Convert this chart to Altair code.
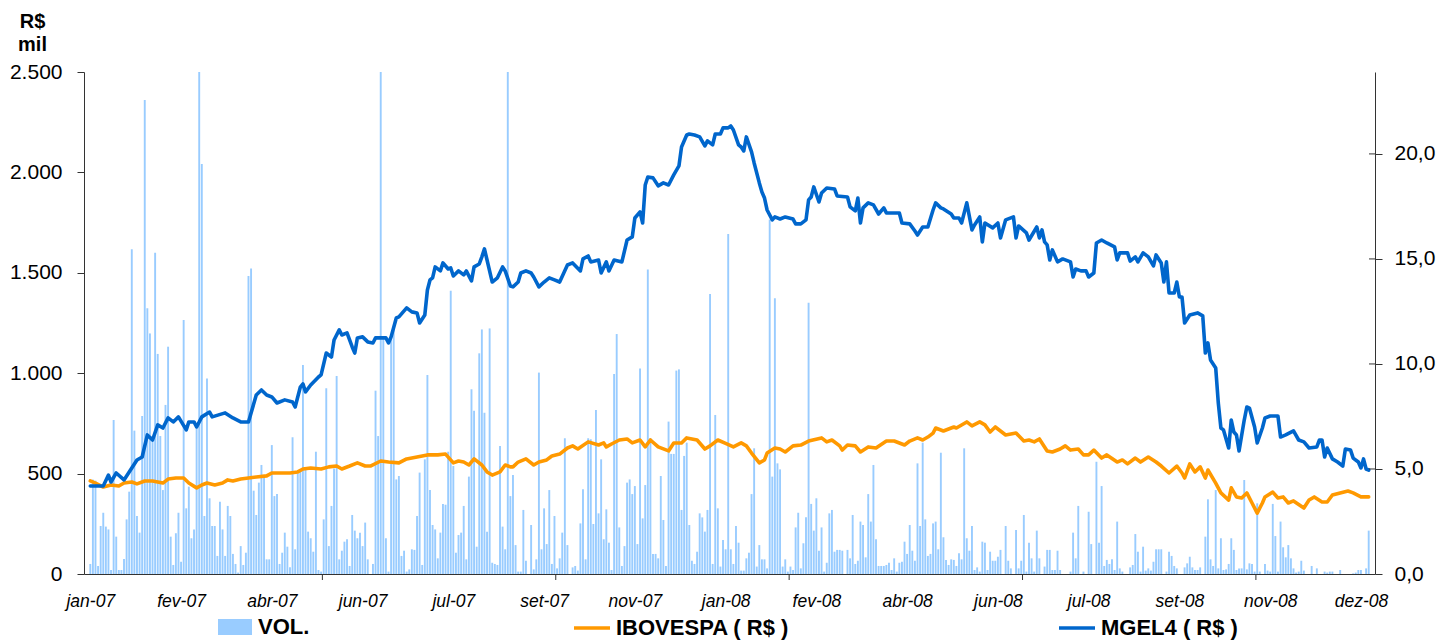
import json
import altair as alt
import pandas as pd

# ---------------- data ----------------
N_DIAS = 494  # trading days, jan-07 .. dez-08

ROTULOS_X = ["jan-07", "fev-07", "abr-07", "jun-07", "jul-07", "set-07", "nov-07",
             "jan-08", "fev-08", "abr-08", "jun-08", "jul-08", "set-08", "nov-08", "dez-08"]
DIAS_ROTULO = [0, 35, 70, 105, 140, 175, 210, 245, 280, 315, 350, 385, 420, 455, 490]
MARCAS_X = [89.5, 179.5, 269.5, 359.5, 449.5]

TICKS_ESQ = [0, 500, 1000, 1500, 2000, 2500]
TICKS_DIR = [0, 5, 10, 15, 20]

SERIE_VOL = "VOL."
SERIE_IBOV = "IBOVESPA ( R$ )"
SERIE_MGEL = "MGEL4 ( R$ )"

# (day, volume R$ mil)
VOL = [
    (0,50),(1,470),(2,465),(3,40),(4,239),(5,305),(6,236),(7,222),(8,20),(9,767),(10,186),(11,20),(12,20),
    (13,75),(14,272),(15,410),(16,1617),(17,714),(18,289),(19,206),(20,787),(21,2360),(22,1323),(23,1198),
    (24,687),(25,1600),(26,1096),(27,687),(28,418),(29,842),(30,1132),(31,186),(32,45),(33,203),(34,305),
    (35,61),(36,1265),(37,327),(38,435),(39,178),(40,222),(41,737),(42,2500),(43,2042),(44,289),(45,974),
    (46,377),(47,239),(48,239),(49,90),(50,360),(51,222),(52,90),(53,339),(54,289),(55,100),(56,50),(57,7),
    (58,139),(59,45),(60,106),(61,1484),(62,1522),(63,415),(64,294),(65,455),(66,543),(67,488),(68,73),
    (69,73),(70,642),(71,388),(72,398),(73,50),(74,106),(75,206),(76,136),(77,33),(78,681),(79,123),(80,501),
    (81,515),(82,1041),(83,521),(84,211),(85,178),(86,111),(87,609),
    (88,20),(89,12),(90,272),(91,925),(92,139),(93,339),(94,526),(95,986),(96,73),(97,116),(98,161),(99,173),
    (100,40),(101,294),(102,216),(103,178),(104,206),(105,139),(106,256),(107,73),(109,50),(110,913),(111,687),
    (112,2500),(113,1182),(114,178),(115,12),(116,1174),(117,1223),(118,471),(119,488),(120,90),(121,116),
    (122,12),(123,23),(124,123),(125,120),(126,289),(127,505),(128,45),(129,571),(130,991),(131,418),(132,244),
    (133,222),(134,78),(135,206),(136,349),(137,345),(138,609),(139,1411),(140,538),(141,106),(142,194),
    (143,206),(144,339),(145,73),(146,485),(147,920),(148,813),(149,136),(150,1099),(151,1218),(152,803),
    (153,211),(154,1223),(155,56),(156,50),(157,45),(158,637),(159,236),(160,123),(161,2500),(162,388),(163,493),
    (164,144),(165,12),(166,12),(167,319),(168,66),(170,244),(171,23),(172,73),(173,1003),(174,123),(175,327),
    (176,149),(177,418),(178,50),(179,289),(180,28),(181,78),(182,206),(183,676),(184,144),(186,33),(187,40),
    (188,17),(189,252),(190,422),(191,73),(192,676),(193,671),(194,249),(195,817),(196,302),(197,571),(198,173),
    (199,322),(200,156),(201,20),(202,996),(203,1195),(204,232),(205,40),(206,139),(207,455),(208,471),(209,398),
    (210,438),(211,149),(212,1024),(213,277),(214,443),(215,1517),(216,676),(217,100),(218,100),(219,78),
    (220,488),(221,269),(222,40),(223,759),(224,598),(225,598),(226,1013),(227,1019),(228,319),(229,588),
    (230,654),(231,244),(232,66),(233,50),(234,111),(235,302),(236,282),(237,211),(238,319),(239,1394),(240,50),
    (241,792),(242,327),(243,37),(244,169),(245,123),(246,1693),
    (247,123),(248,50),(249,239),(250,156),(251,17),(252,17),(253,78),(254,106),(255,398),(256,626),(257,37),
    (258,144),(259,73),(260,73),(261,28),(262,1766),(263,485),(264,1373),(265,551),(266,521),(267,37),(268,73),
    (269,12),(270,37),(271,20),(272,232),(273,305),(274,28),(275,153),(276,282),(277,1351),(278,349),(279,216),
    (280,377),(281,116),(282,232),(283,12),(284,56),(285,302),(286,319),(287,111),(288,120),(289,120),(290,116),
    (292,120),(293,78),(294,294),(295,50),(296,66),(297,261),(298,244),(299,83),(300,398),(301,261),(302,543),
    (303,173),(304,40),(305,40),(306,40),(307,45),(308,56),(309,20),(310,78),(311,12),(312,56),(313,61),
    (314,161),(315,100),(316,244),(317,116),(318,66),(319,551),(320,239),(321,654),(322,272),(323,90),(324,100),
    (325,252),(326,261),(327,123),(328,604),(329,183),
    (330,70),(331,45),(332,73),(333,70),(334,40),(335,103),(336,73),(337,626),(338,178),(339,116),(340,239),
    (341,20),(342,33),(343,12),(344,161),(345,156),(346,20),(347,111),(348,66),(349,66),(350,86),(351,120),
    (353,239),(354,66),(355,28),(357,219),(358,28),(359,66),(360,294),(361,12),(362,156),(363,78),(364,12),
    (365,216),(366,78),(368,37),(369,120),(370,120),(371,20),(372,20),(373,116),(374,20),(378,12),(379,206),
    (380,78),(381,339),(383,12),(385,310),(386,149),(388,559),(389,156),(390,438),(391,40),(392,70),(393,50),
    (394,73),(395,20),(396,261),(397,28),(398,12),(401,33),(402,45),(403,199),(404,111),(405,12),(406,136),
    (407,17),(408,28),(409,17),(410,61),(411,123),
    (412,123),(413,123),(415,12),(416,111),(417,90),(418,40),(419,28),(422,33),(423,53),(424,86),(425,33),
    (426,20),(427,20),(428,33),(430,186),(431,372),(432,73),(433,40),(434,418),(435,28),(436,178),(437,20),
    (438,23),(439,50),(440,178),(441,120),(442,20),(443,28),(444,28),(445,468),(446,23),(447,53),(448,50),
    (449,12),(450,352),(451,12),(453,50),(454,17),(455,12),(456,349),(457,189),(458,12),(459,261),(460,133),
    (461,83),(462,144),(463,78),(464,28),(465,7),(466,12),(467,66),(468,17),(471,40),(473,28),(476,12),(477,7),
    (478,12),(479,12),(482,20),(487,3),(488,7),(489,20),(490,20),(492,28),(493,216),
]

# (day, price R$)
MGEL4 = [
    (0,4.19),(5,4.19),(7,4.71),(8,4.38),(10,4.81),(13,4.48),(15,4.86),(16,5.05),(18,5.43),(20,5.57),(22,6.62),
    (24,6.38),(26,7.1),(28,6.95),(30,7.43),(32,7.24),(34,7.48),(37,6.86),(38,7.24),(40,7.24),(41,7.0),(43,7.48),
    (46,7.71),(47,7.48),(52,7.67),(55,7.43),(58,7.24),(61,7.24),(64,8.52),(66,8.76),(68,8.52),(70,8.43),(72,8.14),
    (75,8.29),(78,8.19),(79,7.95),(81,8.9),(82,9.05),(83,8.67),(85,9.0),(88,9.38),(89,9.48),(91,10.52),(93,10.33),
    (94,11.14),(96,11.62),(97,11.38),(99,11.48),(101,10.81),(102,10.52),(103,11.24),(105,11.29),(107,11.05),
    (109,11.0),(110,11.24),(114,11.24),(115,11.0),(116,11.29),(118,12.19),(119,12.24),(122,12.67),(124,12.48),
    (126,12.43),(127,11.95),(129,12.33),(130,13.52),(131,14.0),(132,14.1),(133,14.62),(135,14.43),(136,14.81),
    (138,14.52),(139,14.57),(140,14.19),(142,14.43),(144,14.24),(145,14.43),(147,13.95),(148,14.62),(150,14.76),
    (151,15.1),(152,15.48),(153,14.95),(155,13.9),(157,14.1),(159,14.62),(160,14.43),(162,13.71),(163,13.67),
    (165,13.9),(166,14.33),(168,14.43),(170,14.33),(171,14.14),(173,13.67),(175,13.9),(177,14.1),(179,14.0),
    (181,13.9),(184,14.71),(186,14.81),(189,14.43),(190,15.0),(192,15.14),(193,14.86),(196,14.95),(197,14.33),
    (199,14.86),(200,14.43),(202,14.95),(205,14.86),(207,15.9),(209,16.05),(210,16.95),(212,17.24),(213,16.71),
    (214,18.52),(215,18.9),(217,18.86),(219,18.48),(221,18.62),(223,18.52),(225,19.0),(227,19.43),(228,20.33),
    (230,20.9),(231,20.95),(233,20.9),(235,20.81),(237,20.38),(238,20.62),(240,20.43),(241,20.95),(243,20.95),
    (244,21.24),(246,21.24),(247,21.33),(248,21.14),(250,20.43),(251,20.33),(252,20.14),(253,20.81),(255,20.1),
    (256,19.57),(258,18.62),(259,18.19),(260,17.9),(261,17.33),(263,16.86),(264,17.0),(266,16.9),(268,17.0),
    (271,16.9),(272,16.67),(274,16.67),(276,16.86),(277,17.81),(278,17.95),(279,18.43),(281,17.71),(282,18.14),
    (284,18.38),(287,18.33),(288,18.0),(292,17.95),(293,17.48),(295,17.29),(296,17.9),(297,16.71),(298,17.43),
    (300,17.67),(302,17.57),(304,17.14),(306,17.43),(307,17.19),(312,17.19),(313,16.71),(316,16.67),(318,16.33),
    (319,16.14),(321,16.52),(323,16.52),(325,17.33),(326,17.67),(328,17.43),(329,17.38),(332,17.14),(333,16.95),
    (335,16.95),(336,16.71),(338,17.67),(340,16.38),(341,16.62),(343,17.0),(344,15.81),(345,16.71),(348,16.48),
    (350,16.71),(351,16.0),(353,16.86),(356,17.0),(357,16.0),(358,16.57),(361,16.24),(362,15.9),(365,16.52),
    (366,16.0),(367,16.38),(368,15.81),(369,15.67),(370,14.95),(371,15.43),(373,14.86),(375,15.0),(378,14.86),
    (379,14.14),(380,14.52),(382,14.43),(384,14.43),(385,14.14),(387,14.33),(388,15.76),(390,15.9),(392,15.76),
    (395,15.57),(396,14.95),(397,15.29),(400,15.29),(401,14.9),(403,15.1),(404,14.86),(406,15.29),(408,15.1),
    (410,14.67),(411,15.19),(413,14.81),(414,13.9),(415,14.86),(416,13.38),(418,13.38),(419,13.9),(420,13.19),
    (421,13.19),(422,11.95),(424,12.33),(427,12.43),(429,12.29),(430,10.52),(431,11.0),(432,10.19),(434,9.81),
    (435,8.14),(436,6.95),(437,6.86),(439,6.0),(440,7.33),(441,6.76),(442,6.62),(443,5.86),(445,7.33),(446,7.95),
    (447,7.9),(449,7.0),(450,6.24),(452,6.95),(453,7.43),(455,7.52),(458,7.52),(459,6.52),(461,6.62),(464,6.81),
    (466,6.38),(468,6.29),(470,6.0),(473,6.05),(474,6.38),(475,6.38),(476,5.57),(477,6.0),(479,5.48),(481,5.33),
    (483,5.14),(484,5.95),(486,5.9),(487,5.52),(489,5.33),(490,5.05),(491,5.48),(492,5.0),(493,4.95),
]

# (day, IBOVESPA scaled to the right axis)
IBOV = [
    (0,4.43),(2,4.33),(5,4.14),(8,4.24),(11,4.19),(13,4.33),(16,4.38),(18,4.29),(21,4.43),(24,4.43),(28,4.33),
    (30,4.52),(33,4.57),(36,4.57),(38,4.33),(41,4.1),(43,4.24),(45,4.33),(48,4.24),(51,4.33),(53,4.48),(55,4.43),
    (58,4.52),(61,4.57),(64,4.62),(68,4.67),(70,4.81),(73,4.81),(77,4.81),(80,4.86),(82,5.0),(85,5.05),(89,5.0),
    (92,5.1),(95,5.14),(97,5.0),(100,5.14),(103,5.29),(106,5.14),(108,5.14),(112,5.38),(115,5.33),(119,5.29),
    (122,5.48),(126,5.57),(130,5.67),(134,5.67),(137,5.71),(140,5.29),(142,5.38),(144,5.33),(146,5.19),(148,5.48),
    (151,5.19),(153,4.86),(155,4.71),(158,4.86),(160,5.19),(162,5.1),(163,5.1),(165,5.33),(168,5.48),(171,5.19),
    (173,5.33),(176,5.43),(178,5.62),(181,5.71),(184,6.0),(186,6.1),(188,5.95),(192,6.29),(196,6.14),(198,6.24),
    (199,6.05),(201,6.19),(204,6.38),(207,6.43),(209,6.24),(212,6.38),(214,6.05),(216,6.38),(219,6.05),(223,5.86),
    (225,6.24),(228,6.24),(230,6.48),(234,6.38),(237,5.95),(239,6.1),(242,6.38),(245,6.22),(248,6.05),(251,6.24),
    (253,6.1),(255,5.76),(258,5.29),(260,5.43),(261,5.76),(264,6.0),(266,5.95),(268,5.81),(271,6.1),(274,6.14),
    (277,6.33),(282,6.48),(284,6.29),(286,6.38),(289,6.1),(290,5.9),(292,6.14),(295,6.1),(297,5.81),(300,6.05),
    (303,6.0),(307,6.33),(310,6.33),(314,6.14),(316,6.33),(319,6.48),(321,6.38),(323,6.52),(325,6.71),(326,6.95),
    (329,6.81),(333,7.0),(334,6.95),(338,7.24),(340,7.05),(343,7.24),(345,7.1),(347,6.76),(349,7.0),(353,6.62),
    (357,6.71),(360,6.33),(362,6.38),(364,6.29),(366,6.43),(369,5.86),(371,5.81),(374,5.95),(376,6.1),(378,5.9),
    (381,5.95),(383,5.67),(385,5.67),(387,5.9),(390,5.52),(392,5.67),(396,5.33),(398,5.43),(400,5.24),(403,5.52),
    (405,5.33),(408,5.57),(411,5.33),(413,5.14),(416,4.81),(419,5.14),(421,4.81),(422,4.57),(424,5.24),(426,4.86),
    (428,5.1),(430,4.57),(431,4.95),(434,4.33),(436,3.86),(439,3.52),(440,4.1),(442,3.67),(444,3.62),(446,3.86),
    (448,3.38),(450,2.9),(452,3.38),(453,3.67),(456,3.9),(458,3.62),(460,3.67),(462,3.38),(464,3.48),(468,3.14),
    (470,3.52),(472,3.67),(475,3.43),(477,3.43),(479,3.76),(482,3.86),(485,3.95),(487,3.86),(490,3.67),(493,3.67),
]

# ---------------- tables ----------------
df_vol = pd.DataFrame(VOL, columns=["dia", "volume"])
df_vol["serie"] = SERIE_VOL
df_m = pd.DataFrame(MGEL4, columns=["dia", "valor"])
df_m["serie"] = SERIE_MGEL
df_i = pd.DataFrame(IBOV, columns=["dia", "valor"])
df_i["serie"] = SERIE_IBOV
df_lin = pd.concat([df_i, df_m], ignore_index=True)
df_marcas = pd.DataFrame({"dia": MARCAS_X})
df_tdir = pd.DataFrame({"valor": TICKS_DIR[1:]})

# ---------------- styling ----------------
W, H = 1291, 502
FONT = "Liberation Sans"
AX = "#333333"

xs = alt.Scale(domain=[-0.5, N_DIAS - 0.5], nice=False, zero=False)
label_expr = json.dumps(ROTULOS_X) + "[round(datum.value / 35)]"
x_axis = alt.Axis(values=DIAS_ROTULO, labelExpr=label_expr, ticks=False, tickSize=0,
                  labelPadding=18, labelFont=FONT, labelFontSize=17.5, labelFontStyle="italic",
                  labelColor="black", domainColor=AX, title=None, grid=False, labelAngle=0,
                  labelOverlap=False, labelFlush=False)

y_left = alt.Scale(domain=[0, 2500], nice=False, clamp=True)
left_axis = alt.Axis(orient="left", values=TICKS_ESQ,
                     labelExpr="replace(format(datum.value, ','), ',', '.')",
                     tickSize=7, labelPadding=15, labelFontSize=21, labelFont=FONT,
                     labelColor="black", tickColor=AX, domainColor=AX, grid=False,
                     title=["R$", "mil"], titleAngle=0, titleAlign="center",
                     titleBaseline="alphabetic", titleX=-52, titleY=-45, titleFontSize=20,
                     titleFontWeight="bold", titleFont=FONT, titleLineHeight=23, titleColor="black")

y_right = alt.Scale(domain=[0, 23.9], nice=False)
right_axis = alt.Axis(orient="right", values=TICKS_DIR,
                      labelExpr="replace(format(datum.value, '.1f'), '.', ',')",
                      tickSize=7, labelPadding=12, labelFontSize=21, labelFont=FONT,
                      labelColor="black", tickColor=AX, domainColor=AX, grid=False, title=None)

leg_fill = alt.Legend(title=None, orient="none", legendX=134, legendY=538, direction="horizontal",
                      symbolType="M-1,-0.47H1V0.47H-1Z", symbolSize=1156, symbolStrokeWidth=0,
                      labelFont=FONT, labelFontSize=22, labelFontWeight="bold", labelColor="black",
                      labelOffset=6, labelLimit=400, padding=0)
leg_stroke = alt.Legend(title=None, orient="none", legendX=488, legendY=536, direction="horizontal",
                        columns=2, columnPadding=262, symbolType="stroke", symbolSize=1296,
                        symbolStrokeWidth=3.5, labelFont=FONT, labelFontSize=22,
                        labelFontWeight="bold", labelColor="black", labelOffset=4,
                        labelLimit=400, padding=0)

bars = alt.Chart(df_vol).mark_bar(size=1.9, orient="vertical").encode(
    x=alt.X("dia:Q", scale=xs, axis=x_axis),
    y=alt.Y("volume:Q", scale=y_left, axis=left_axis, stack=None),
    fill=alt.Fill("serie:N", scale=alt.Scale(domain=[SERIE_VOL], range=["#99CCFF"]), legend=leg_fill),
)

ticks_x = alt.Chart(df_marcas).mark_rule(color=AX, strokeWidth=1).encode(
    x=alt.X("dia:Q", scale=xs, axis=x_axis),
    y=alt.value(H), y2=alt.value(H + 6),
)

lines = alt.Chart(df_lin).mark_line(strokeWidth=3.6, strokeJoin="round", strokeCap="round").encode(
    x=alt.X("dia:Q", scale=xs, axis=x_axis),
    y=alt.Y("valor:Q", scale=y_right, axis=right_axis),
    stroke=alt.Stroke("serie:N", scale=alt.Scale(domain=[SERIE_IBOV, SERIE_MGEL],
                                                 range=["#FF9900", "#0066CC"]), legend=leg_stroke),
)

ticks_dir = alt.Chart(df_tdir).mark_rule(color=AX, strokeWidth=1).encode(
    y=alt.Y("valor:Q", scale=y_right, axis=right_axis),
    x=alt.value(W - 6), x2=alt.value(W),
)

right_layer = alt.layer(lines, ticks_dir)

chart = alt.layer(bars, ticks_x, right_layer).resolve_scale(y="independent").properties(
    width=W, height=H,
    padding={"left": 76, "top": 64, "right": 70, "bottom": 70},
    autosize=alt.AutoSizeParams(type="none"),
).configure_view(stroke=None)

chart.save("out.html", embed_options={"renderer": "svg", "actions": False})
